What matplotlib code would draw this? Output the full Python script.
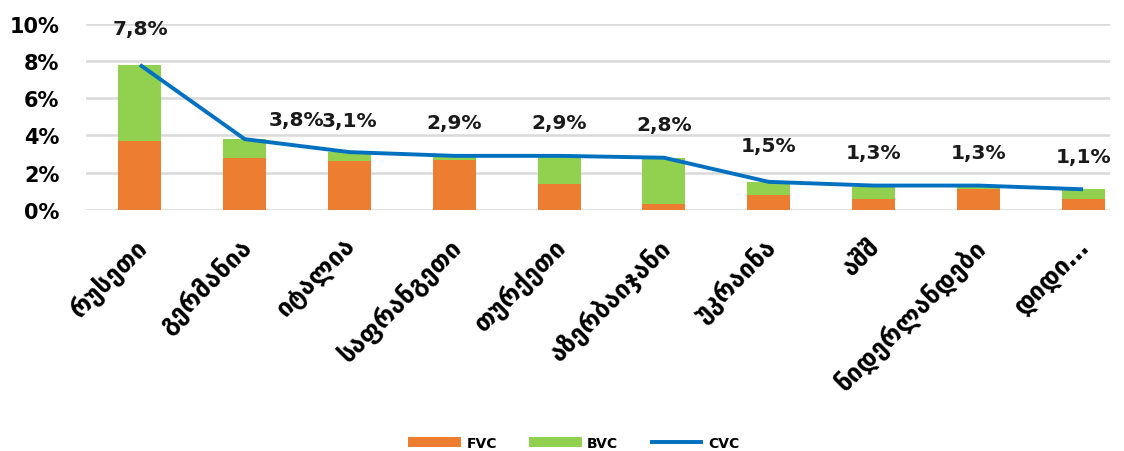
import matplotlib
matplotlib.use("Agg")
import matplotlib.pyplot as plt
import matplotlib.transforms as mtransforms
import numpy as np
from matplotlib.ticker import FuncFormatter, MultipleLocator

categories = ["რუსეთი", "გერმანია", "იტალია", "საფრანგეთი", "თურქეთი",
              "აზერბაიჯანი", "უკრაინა", "აშშ", "ნიდერლანდები", "დიდი…"]
fvc = [3.7, 2.8, 2.6, 2.7, 1.4, 0.3, 0.8, 0.6, 1.1, 0.6]
bvc = [4.1, 1.0, 0.5, 0.2, 1.5, 2.5, 0.7, 0.6, 0.1, 0.5]
cvc = [7.8, 3.8, 3.1, 2.9, 2.9, 2.8, 1.5, 1.3, 1.3, 1.1]
cvc_labels = ["7,8%", "3,8%", "3,1%", "2,9%", "2,9%", "2,8%", "1,5%", "1,3%", "1,3%", "1,1%"]

plt.rcParams['font.family'] = ['DejaVu Sans']

fig = plt.figure(figsize=(11.24, 4.52), dpi=100)
ax = fig.add_axes([86 / 1124, 1 - 210.7 / 452, 1024 / 1124, (210.7 - 25) / 452])

x = np.arange(len(categories))
orange = "#ED7D31"
green = "#92D050"
blue = "#0070C0"

b1 = ax.bar(x, fvc, width=0.41, color=orange, label="FVC", zorder=2)
b2 = ax.bar(x, bvc, width=0.41, bottom=fvc, color=green, label="BVC", zorder=2)
l1, = ax.plot(x, cvc, color=blue, lw=2.8, label="CVC", zorder=3, solid_capstyle='butt')

# data labels
offsets = [(0, 19), (37, 7), (0, 16), (0, 17), (0, 17), (0, 17), (0, 19), (0, 17), (0, 17), (0, 17)]
for xi, yi, lab, off in zip(x, cvc, cvc_labels, offsets):
    ax.annotate(lab, (xi, yi), xytext=off, textcoords="offset points",
                ha="center", va="bottom", fontsize=14.5, fontweight="bold", color="#1a1a1a")

ax.set_ylim(0, 10)
ax.set_xlim(-0.515, 9.257)
ax.yaxis.set_major_locator(MultipleLocator(2))
ax.yaxis.set_major_formatter(FuncFormatter(lambda v, p: f"{v:.0f}%"))
ax.grid(axis="y", color="#d9d9d9", lw=1.8, zorder=0)
ax.set_axisbelow(True)
for s in ax.spines.values():
    s.set_visible(False)
ax.tick_params(axis="both", length=0)
ax.tick_params(axis="y", labelsize=15, pad=19)
for t in ax.get_yticklabels():
    t.set_fontweight("bold")
ax.set_xticks(x)
ax.set_xticklabels(categories, rotation=45, ha="right", rotation_mode="anchor",
                   fontsize=18, fontweight="bold")
ax.tick_params(axis="x", pad=17)
shift = mtransforms.ScaledTranslation(-6 / 100, 0, fig.dpi_scale_trans)
for t in ax.get_xticklabels():
    t.set_transform(t.get_transform() + shift)

fig.legend(handles=[b1, b2, l1], labels=["FVC", "BVC", "CVC"],
           loc="center", bbox_to_anchor=(574 / 1124, 8 / 452), ncol=3, frameon=False,
           prop={"weight": "bold", "size": 10}, handlelength=3.8, handleheight=0.75,
           columnspacing=2.3, handletextpad=0.4)

fig.savefig("out.png", dpi=100)
